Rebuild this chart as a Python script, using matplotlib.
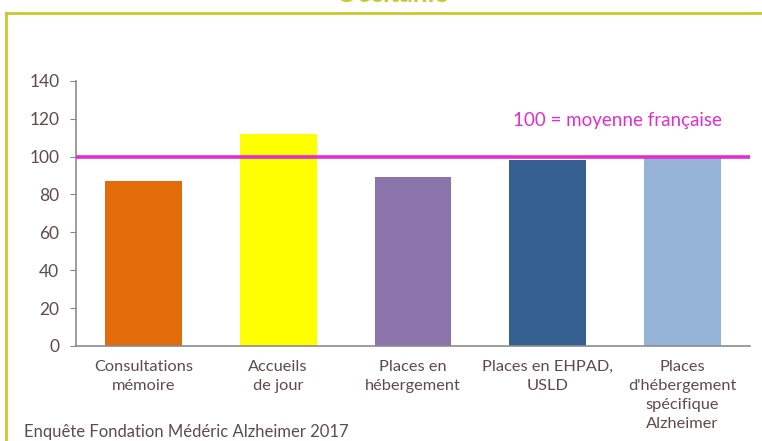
import matplotlib
matplotlib.use("Agg")
import matplotlib.pyplot as plt
from matplotlib.lines import Line2D

categories = ["Consultations\nmémoire", "Accueils\nde jour", "Places en\nhébergement",
              "Places en EHPAD,\nUSLD", "Places\nd'hébergement\nspécifique\nAlzheimer"]
values = [87, 112, 89, 98, 99]
colors = ["#E36C0A", "#FFFF00", "#8B74AC", "#366092", "#95B3D7"]
reference = 100
yticks = [0, 20, 40, 60, 80, 100, 120, 140]

txt = "#5F4B4B"
font = "Lato"

fig = plt.figure(figsize=(7.62, 4.41), dpi=100)
ax = fig.add_axes([76/762, 95/441, (750-76)/762, (346-80.7)/441])

x = list(range(len(categories)))
ax.bar(x, values, width=0.57, color=colors, zorder=2)
ax.axhline(reference, color="#E32DCF", lw=2.6, zorder=3)
ax.text(3.52, 119, "100 = moyenne française", color="#E32DCF", fontsize=13.5,
        family=font, ha="center", va="center")

ax.set_xlim(-0.5, 4.5)
ax.set_ylim(0, 140)
ax.set_yticks(yticks)
ax.set_xticks(x)
ax.set_xticklabels(categories, fontsize=11.8, family=font, color=txt, linespacing=1.45)
for lab in ax.get_yticklabels():
    lab.set_family(font)
    lab.set_fontsize(12.5)
    lab.set_color(txt)
ax.tick_params(axis="x", length=0, pad=10)
ax.tick_params(axis="y", length=4, color="#888888", pad=8)
for s in ["top", "right"]:
    ax.spines[s].set_visible(False)
for s in ["left", "bottom"]:
    ax.spines[s].set_color("#8c8c8c")
    ax.spines[s].set_linewidth(1.2)

# outer frame
fc = "#C4CC2C"
fig.add_artist(Line2D([6/762, 1.0], [1-13/441, 1-13/441], transform=fig.transFigure, color=fc, lw=2))
fig.add_artist(Line2D([6/762, 6/762], [0, 1-13/441], transform=fig.transFigure, color=fc, lw=2))
fig.text(392/762, 1-1.5/441, "Occitanie", color=fc, fontsize=19, weight="bold",
         family=font, ha="center", va="baseline")

fig.text(24/762, 4/441, "Enquête Fondation Médéric Alzheimer 2017", color=txt,
         fontsize=12, family=font, ha="left", va="baseline")

fig.savefig("out.png", dpi=100)
